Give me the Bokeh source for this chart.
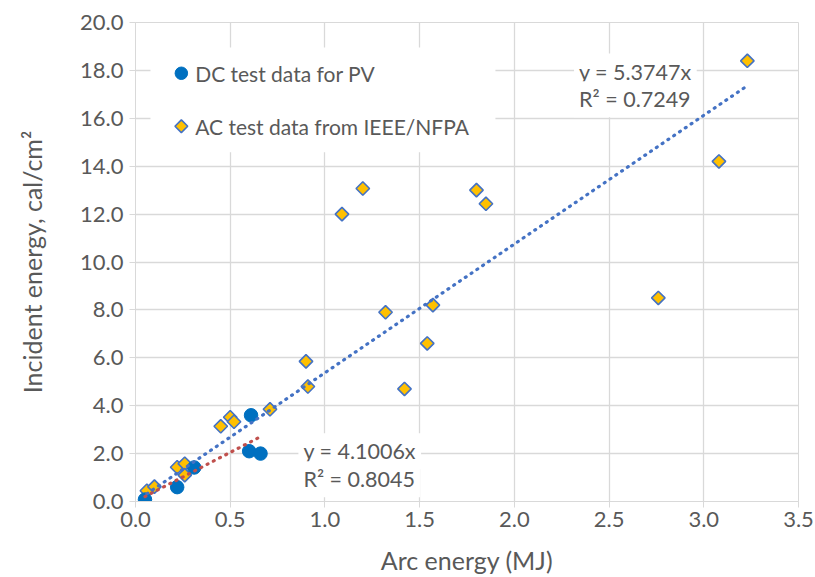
import numpy as np
from bokeh.plotting import figure
from bokeh.models import ColumnDataSource, Label, FixedTicker, NumeralTickFormatter
from bokeh.embed import file_html
from bokeh.resources import INLINE

# ---- data ----
dc_x = [0.05, 0.22, 0.31, 0.60, 0.61, 0.66]
dc_y = [0.08, 0.60, 1.42, 2.10, 3.60, 2.00]

ac_x = [0.06, 0.10, 0.22, 0.26, 0.26, 0.45, 0.50, 0.52, 0.71, 0.90, 0.91,
        1.09, 1.20, 1.32, 1.42, 1.54, 1.57, 1.80, 1.85, 2.76, 3.08, 3.23]
ac_y = [0.45, 0.62, 1.43, 1.58, 1.10, 3.14, 3.52, 3.33, 3.85, 5.85, 4.80,
        12.00, 13.07, 7.90, 4.70, 6.60, 8.20, 13.00, 12.43, 8.50, 14.20, 18.40]

dc_slope = 4.1006
dc_r2 = 0.8045
ac_slope = 5.3747
ac_r2 = 0.7249

x_ticks = [0.0, 0.5, 1.0, 1.5, 2.0, 2.5, 3.0, 3.5]
y_ticks = [0, 2, 4, 6, 8, 10, 12, 14, 16, 18, 20]

series_names = ["DC test data for PV", "AC test data from IEEE/NFPA"]
x_title = "Arc energy (MJ)"
y_title = "Incident energy, cal/cm\u00b2"

FONT = "Lato"
TXT = "#595959"
GRID = "#D9D9D9"
DC_COLOR = "#0070C0"
AC_FILL = "#FFC000"
AC_LINE = "#4472C4"

p = figure(width=815, height=577, output_backend="svg", toolbar_location=None,
           x_range=(0, 3.5), y_range=(0, 20),
           min_border_left=135, min_border_right=17, min_border_top=22, min_border_bottom=75)
p.background_fill_color = "white"
p.border_fill_color = "white"
p.outline_line_color = GRID

for ax in (p.xaxis[0], p.yaxis[0]):
    ax.axis_line_color = GRID
    ax.major_tick_line_color = GRID
    ax.major_tick_out = 6
    ax.major_tick_in = 0
    ax.minor_tick_line_color = None
    ax.major_label_text_font = FONT
    ax.major_label_text_font_size = "22px"
    ax.major_label_text_color = TXT
    ax.axis_label_text_font = FONT
    ax.axis_label_text_font_size = "25px"
    ax.axis_label_text_font_style = "normal"
    ax.axis_label_text_color = TXT

p.xaxis.ticker = FixedTicker(ticks=x_ticks)
p.yaxis.ticker = FixedTicker(ticks=y_ticks)
p.xaxis.formatter = NumeralTickFormatter(format="0.0")
p.yaxis.formatter = NumeralTickFormatter(format="0.0")
p.xaxis.axis_label = x_title
p.yaxis.axis_label = y_title
p.xaxis.major_label_standoff = 4
p.yaxis.major_label_standoff = 6
p.xaxis.axis_label_standoff = 15
p.yaxis.axis_label_standoff = 30

p.xgrid.ticker = FixedTicker(ticks=x_ticks)
p.ygrid.ticker = FixedTicker(ticks=y_ticks)
p.xgrid.grid_line_color = GRID
p.ygrid.grid_line_color = GRID
p.xgrid.grid_line_width = 1.3
p.ygrid.grid_line_width = 1.3

# ---- legend box (drawn by hand so the diamond marker matches) ----
p.quad(left=[0.079], right=[1.90], bottom=[14.58], top=[18.96],
       fill_color="white", line_color=None)
p.scatter([0.242], [17.88], marker="circle", size=12.5,
          fill_color=DC_COLOR, line_color=DC_COLOR)
p.scatter([0.242], [15.67], marker="square", size=9, angle=np.pi / 4,
          fill_color=AC_FILL, line_color=AC_LINE, line_width=1.6)
p.text([0.315, 0.315], [17.88, 15.67], text=series_names,
       text_font={"value": FONT}, text_font_size="21px", text_color=TXT,
       text_baseline="middle", text_align="left")

ac_src = ColumnDataSource(dict(x=ac_x, y=ac_y))
dc_src = ColumnDataSource(dict(x=dc_x, y=dc_y))

p.scatter("x", "y", source=ac_src, marker="square", size=9.5, angle=np.pi / 4,
          fill_color=AC_FILL, line_color=AC_LINE, line_width=1.6)
p.scatter("x", "y", source=dc_src, marker="circle", size=13.5,
          fill_color=DC_COLOR, line_color=DC_COLOR, line_width=1)

# trendlines (linear, through origin)
ac_tx = np.array([min(ac_x), max(ac_x)])
dc_tx = np.array([min(dc_x), max(dc_x)])
p.line(ac_tx, ac_slope * ac_tx, line_color="#4472C4", line_width=3.2,
       line_dash="1 6", line_cap="round")
p.line(dc_tx, dc_slope * dc_tx, line_color="#C0504D", line_width=3.2,
       line_dash="1 6", line_cap="round")


def eq_label(x, y, text):
    return Label(x=x, y=y, text=text, text_font=FONT, text_font_size="21.5px",
                 text_color=TXT, text_baseline="middle", text_align="left",
                 background_fill_color="white", background_fill_alpha=1,
                 padding=5)

p.add_layout(eq_label(2.315, 17.95, "y = %.4fx" % ac_slope))
p.add_layout(eq_label(2.315, 16.8, "R\u00b2 = %.4f" % ac_r2))
p.add_layout(eq_label(0.86, 2.1, "y = %.4fx" % dc_slope))
p.add_layout(eq_label(0.86, 0.93, "R\u00b2 = %.4f" % dc_r2))

open("out.html", "w").write(file_html(p, INLINE))
